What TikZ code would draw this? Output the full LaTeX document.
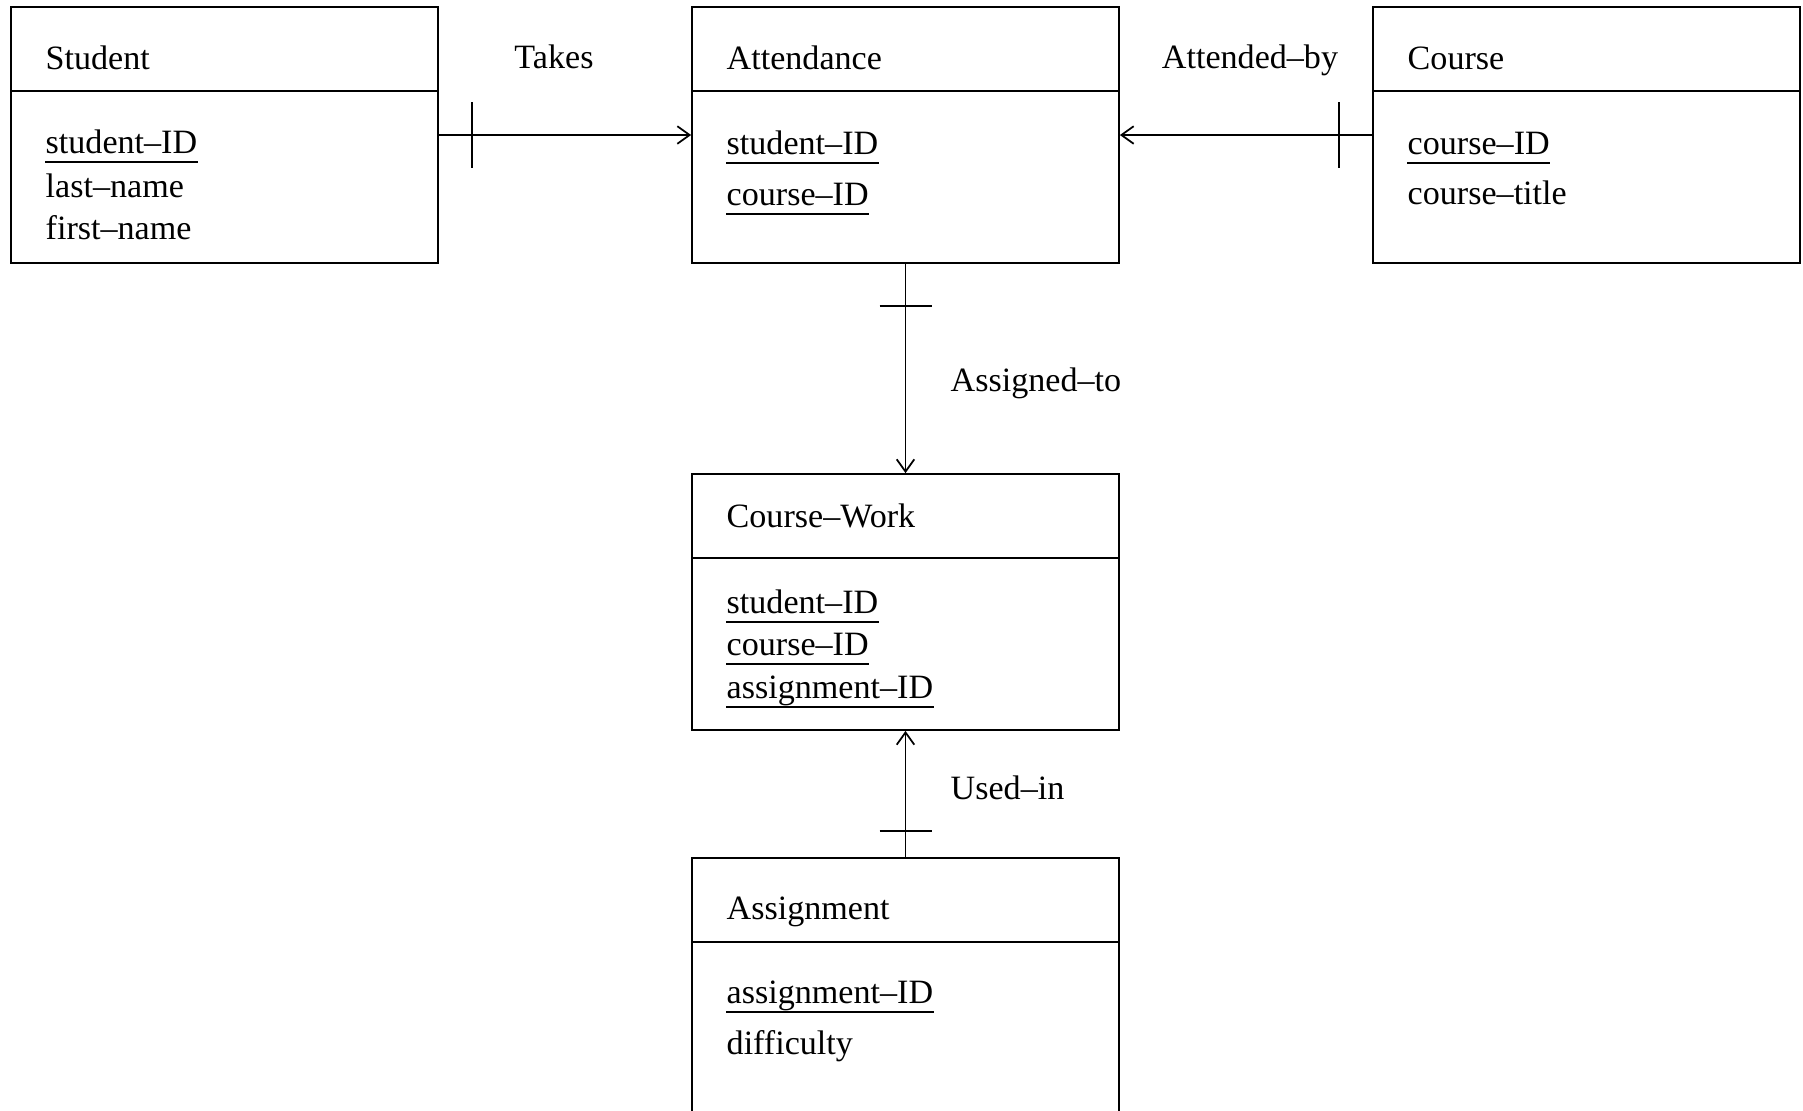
\documentclass[tikz,border=0pt]{standalone}
\usepackage{fontspec}
\setmainfont{Liberation Serif}
\usetikzlibrary{arrows.meta}

\tikzset{
    entity/.style={draw, line width=0.5pt, minimum width=42.7mm, minimum height=25.6mm, inner sep=0pt},
    txt/.style={anchor=base west, inner sep=0pt},
    keyattr/.style={txt, text depth=2.3pt,
        append after command={(\tikzlastnode.south west) edge[line width=0.5pt] (\tikzlastnode.south east)}},
    link/.style={line width=0.5pt, -{Straight Barb[length=3.5pt, width=5pt]}},
    bar/.style={line width=0.5pt},
    rel/.style={anchor=base, inner sep=0pt}
}

\begin{document}
\begin{tikzpicture}[x=0.1mm, y=-0.1mm, font=\fontsize{9.7}{11.6}\selectfont]
    \useasboundingbox (0,0) rectangle (1803,1110);
    \clip (0,0) rectangle (1803,1110);

    % entities
    \node[entity] (stu) at (224.5,135) {};
    \node[entity] (att) at (905.5,135) {};
    \node[entity] (crs) at (1586.5,135) {};
    \node[entity] (cw) at (905.5,602) {};
    \node[entity] (asg) at (905.5,986) {};

    \foreach \e in {stu, att, crs, cw, asg}{
        \draw[line width=0.5pt] ([yshift=-8.5mm]\e.north west) -- ([yshift=-8.5mm]\e.north east);
    }

    \node[txt] (stuT) at (45,69) {Student};
    \node[txt] (attT) at (726,69) {Attendance};
    \node[txt] (crsT) at (1407,69) {Course};
    \node[txt] (cwT) at (726,527) {Course--Work};
    \node[txt] (asgT) at (726,919) {Assignment};

    \node[keyattr] (stuA1) at (45,153) {student--ID};
    \node[txt] (stuA2) at (45,197) {last--name};
    \node[txt] (stuA3) at (45,239) {first--name};

    \node[keyattr] (attA1) at (726,154) {student--ID};
    \node[keyattr] (attA2) at (726,205) {course--ID};

    \node[keyattr] (crsA1) at (1407,154) {course--ID};
    \node[txt] (crsA2) at (1407,204) {course--title};

    \node[keyattr] (cwA1) at (726,613) {student--ID};
    \node[keyattr] (cwA2) at (726,655) {course--ID};
    \node[keyattr] (cwA3) at (726,698) {assignment--ID};

    \node[keyattr] (asgA1) at (726,1003) {assignment--ID};
    \node[txt] (asgA2) at (726,1054) {difficulty};

    % relationships
    \draw[link] (stu.east) -- (att.west);
    \draw[link] (crs.west) -- (att.east);
    \draw[link] (att.south) -- (cw.north);
    \draw[link] (asg.north) -- (cw.south);

    \coordinate (tkB) at ([xshift=3.3mm]stu.east);
    \draw[bar] ([yshift=3.3mm]tkB) -- ([yshift=-3.3mm]tkB);
    \coordinate (abB) at ([xshift=-3.3mm]crs.west);
    \draw[bar] ([yshift=3.3mm]abB) -- ([yshift=-3.3mm]abB);
    \coordinate (atB) at ([yshift=-4.2mm]att.south);
    \draw[bar] ([xshift=-2.6mm]atB) -- ([xshift=2.6mm]atB);
    \coordinate (uiB) at ([yshift=2.6mm]asg.north);
    \draw[bar] ([xshift=-2.6mm]uiB) -- ([xshift=2.6mm]uiB);

    \node[rel] (takes) at (554,68) {Takes};
    \node[rel] (attby) at (1250,68) {Attended--by};
    \node[txt] (asgto) at (950,391) {Assigned--to};
    \node[txt] (usedin) at (950,799) {Used--in};
\end{tikzpicture}
\end{document}
